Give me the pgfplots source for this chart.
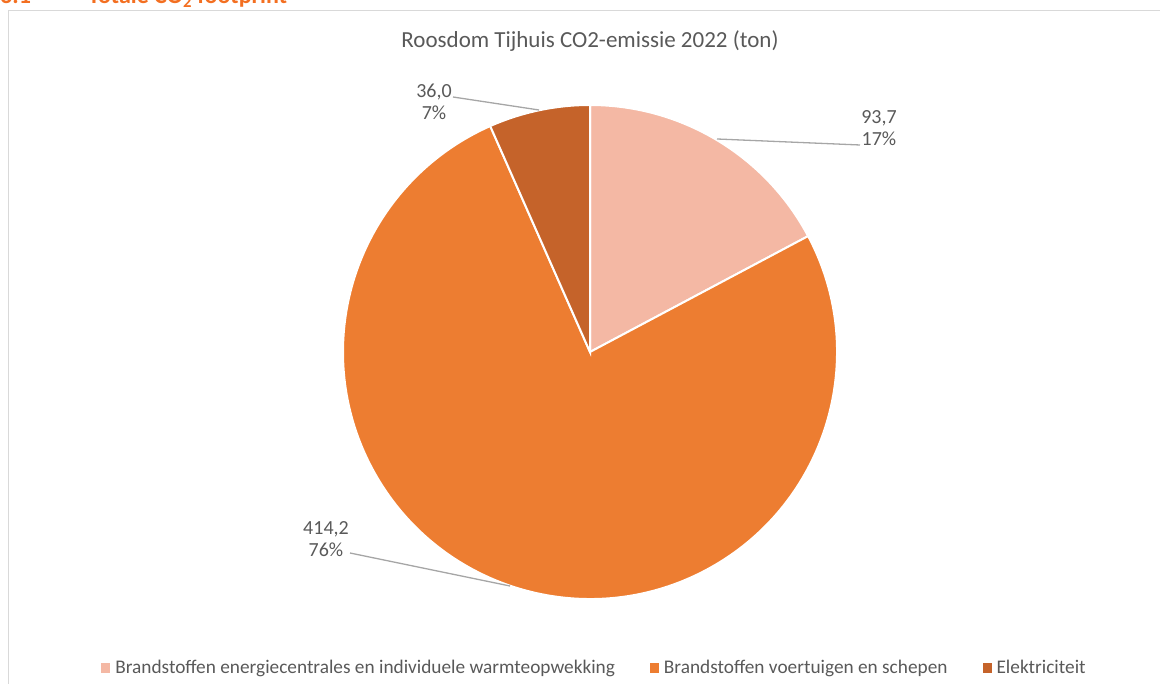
\documentclass[border=0pt]{standalone}
\usepackage{pgfplots}
\pgfplotsset{compat=1.18}
\usepackage{pgfplotstable}
\usepackage{fontspec}
\setmainfont{Carlito}
\definecolor{cA}{HTML}{F4B8A4}
\definecolor{cB}{HTML}{ED7D31}
\definecolor{cC}{HTML}{C5632A}
\definecolor{txt}{HTML}{595959}
\definecolor{lead}{HTML}{A6A6A6}
\definecolor{frame}{HTML}{D9D9D9}
\definecolor{head}{HTML}{F36F21}

\pgfplotstableread{
value label pct
93.7 {93,7} 17
414.2 {414,2} 76
36.0 {36,0} 7
}\piedata

\pgfplotstablegetelem{0}{value}\of\piedata \edef\va{\pgfplotsretval}
\pgfplotstablegetelem{1}{value}\of\piedata \edef\vb{\pgfplotsretval}
\pgfplotstablegetelem{2}{value}\of\piedata \edef\vc{\pgfplotsretval}
\pgfplotstablegetelem{0}{label}\of\piedata \edef\la{\pgfplotsretval}
\pgfplotstablegetelem{1}{label}\of\piedata \edef\lb{\pgfplotsretval}
\pgfplotstablegetelem{2}{label}\of\piedata \edef\lc{\pgfplotsretval}
\pgfplotstablegetelem{0}{pct}\of\piedata \edef\pa{\pgfplotsretval}
\pgfplotstablegetelem{1}{pct}\of\piedata \edef\pb{\pgfplotsretval}
\pgfplotstablegetelem{2}{pct}\of\piedata \edef\pc{\pgfplotsretval}
\pgfmathsetmacro\tot{\va+\vb+\vc}
\pgfmathsetmacro\fa{\va/\tot}
\pgfmathsetmacro\fb{\vb/\tot}
\pgfmathsetmacro\fc{\vc/\tot}
\pgfmathsetmacro\angA{90}
\pgfmathsetmacro\angB{90-360*\fa}
\pgfmathsetmacro\angC{\angB-360*\fb}
\pgfmathsetmacro\angD{\angC-360*\fc}

\begin{document}
\begin{tikzpicture}
\useasboundingbox (0,0) rectangle (1160bp,684bp);
\begin{axis}[
  hide axis, scale only axis, width=1160bp, height=684bp,
  xmin=0, xmax=1160, ymin=0, ymax=684, clip=false,
  at={(0,0)}, anchor=south west,
  legend columns=3,
  legend style={draw=none, fill=none, at={(axis cs:594.5,16)}, anchor=center,
    font=\fontsize{19.3bp}{22bp}\selectfont, text=txt,
    /tikz/every even column/.append style={column sep=33bp},
    /tikz/every odd column/.append style={column sep=3bp},
    nodes={inner sep=2bp}},
  legend image code/.code={\fill[#1, draw=none] (0bp,-4.5bp) rectangle (9bp,4.5bp);},
]
% frame
\draw[frame, line width=1bp] (axis cs:8,0) -- (axis cs:8,673) -- (axis cs:1160,673);
% cut header
\node[anchor=base west, text=head, font=\fontsize{24bp}{28bp}\selectfont\bfseries, inner sep=0] at (axis cs:0,680) {3.1};
\node[anchor=base west, text=head, font=\fontsize{24bp}{28bp}\selectfont\bfseries, inner sep=0] at (axis cs:88,680) {Totale CO\textsubscript{2} footprint};
% title
\node[text=txt, font=\fontsize{23bp}{27bp}\selectfont] at (axis cs:590,643) {Roosdom Tijhuis CO2-emissie 2022 (ton)};
% slices
\filldraw[fill=cA, draw=white, line width=2bp] (axis cs:590,332) -- ++(\angA:247bp) arc[start angle=\angA, end angle=\angB, radius=247bp] -- cycle;
\filldraw[fill=cB, draw=white, line width=2bp] (axis cs:590,332) -- ++(\angB:247bp) arc[start angle=\angB, end angle=\angC, radius=247bp] -- cycle;
\filldraw[fill=cC, draw=white, line width=2bp] (axis cs:590,332) -- ++(\angC:247bp) arc[start angle=\angC, end angle=\angD, radius=247bp] -- cycle;
% leader lines
\draw[lead, line width=1.3bp] (axis cs:717,545) -- (axis cs:860,539);
\draw[lead, line width=1.3bp] (axis cs:453,587) -- (axis cs:539,574);
\draw[lead, line width=1.3bp] (axis cs:350,131) -- (axis cs:510,98);
% labels
\node[text=txt, font=\fontsize{20bp}{21.5bp}\selectfont, align=center] at (axis cs:879,556) {\la\\\pa\%};
\node[text=txt, font=\fontsize{20bp}{21.5bp}\selectfont, align=center] at (axis cs:434,582) {\lc\\\pc\%};
\node[text=txt, font=\fontsize{20bp}{21.5bp}\selectfont, align=center] at (axis cs:326,145) {\lb\\\pb\%};
% legend
\addlegendimage{fill=cA}
\addlegendentry{Brandstoffen energiecentrales en individuele warmteopwekking}
\addlegendimage{fill=cB}
\addlegendentry{Brandstoffen voertuigen en schepen}
\addlegendimage{fill=cC}
\addlegendentry{Elektriciteit}
\end{axis}
\end{tikzpicture}
\end{document}
